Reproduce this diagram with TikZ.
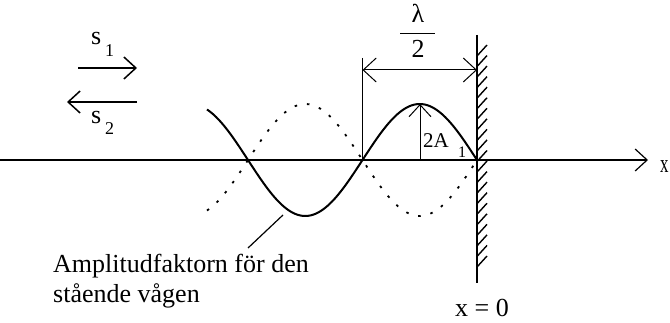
\documentclass[tikz,border=0pt]{standalone}
\usepackage{fontspec}
\setmainfont{Liberation Serif}
\usetikzlibrary{arrows.meta}
\tikzset{
  barb/.style={-{Straight Barb[length=12pt,width=22pt]}},
  dimbarb/.style={{Straight Barb[length=13pt,width=24pt]}-{Straight Barb[length=13pt,width=24pt]}},
  big/.style={font=\fontsize{26}{30}\selectfont, inner sep=0pt, anchor=base west},
  small/.style={font=\fontsize{18}{20}\selectfont, inner sep=0pt, anchor=base west},
  mid/.style={font=\fontsize{21}{24}\selectfont, inner sep=0pt, anchor=base west},
  para/.style={font=\fontsize{26}{30}\selectfont, inner sep=0pt, anchor=base west, align=left},
  thinline/.style={line width=1pt},
  curve/.style={line width=2pt},
  dotcurve/.style={line width=1.8pt, dash pattern=on 2.5pt off 10pt},
  hatch/.style={line width=1.4pt},
}
\begin{document}
\begin{tikzpicture}[x=1pt,y=-1pt]
\useasboundingbox (0,0) rectangle (670,323);
% key points
\coordinate (ax0) at (0,160);
\coordinate (axE) at (648,160);
\coordinate (nodeL) at (248,160);
\coordinate (nodeM) at (362.5,160);
\coordinate (wallB) at (477,160);
\coordinate (peak) at (420,104);
\coordinate (wallTop) at (477,35);
\coordinate (wallBot) at (477,283);
\coordinate (dimTop) at (362.5,58);
\coordinate (dimL) at (362.5,70);
\coordinate (dimR) at (477,70);
% axis
\draw[thinline, line width=1.2pt, barb] (ax0) -- (axE);
\node[big] (xlab) at (660,173) {\scalebox{0.65}[1]{x}};
% wall
\draw[line width=2.6pt] (wallTop) -- (wallBot);
\foreach \k in {0,...,20}{
  \draw[hatch] (477,{56+10.55*\k}) -- (487,{45+10.55*\k});
}
\node[big] (x0) at (455,317) {x = 0};
% curves
\draw[curve] plot[domain=207:477, samples=120] (\x,{160-56*sin(1.57205*(\x-362.5))});
\draw[dotcurve] plot[domain=207:477, samples=120] (\x,{160+56*sin(1.57205*(\x-362.5))});
% dimension lambda/2
\draw[thinline] (dimTop) -- (nodeM);
\draw[thinline, dimbarb] (dimL) -- (dimR);
\node[big, anchor=base] (lam) at (418,23) {λ};
\draw[line width=0.9pt] (400,33) -- (435,33);
\node[big, anchor=base] (two) at (418,58) {2};
% 2A1
\draw[thinline, barb] (420,160) -- (peak);
\node[mid] (twoA) at (423,148) {2A};
\node[font=\fontsize{16}{18}\selectfont, inner sep=0pt, anchor=base west] (one) at (458,158) {1};
% s1, s2
\coordinate (s1a) at (78,68);
\coordinate (s1b) at (137,68);
\coordinate (s2a) at (137,102);
\coordinate (s2b) at (67,102);
\draw[line width=1.5pt, barb] (s1a) -- (s1b);
\draw[line width=1.5pt, barb] (s2a) -- (s2b);
\node[big] (s1) at (91,45) {s};
\node[small] (s1i) at (105,57) {1};
\node[big] (s2) at (91,124) {s};
\node[small] (s2i) at (105,135) {2};
% leader and text
\coordinate (leadA) at (283,215);
\coordinate (leadB) at (248,248);
\draw[line width=1.2pt] (leadA) -- (leadB);
\node[para] (txt) at (53,303) {Amplitudfaktorn för den\\stående vågen};
\end{tikzpicture}
\end{document}
